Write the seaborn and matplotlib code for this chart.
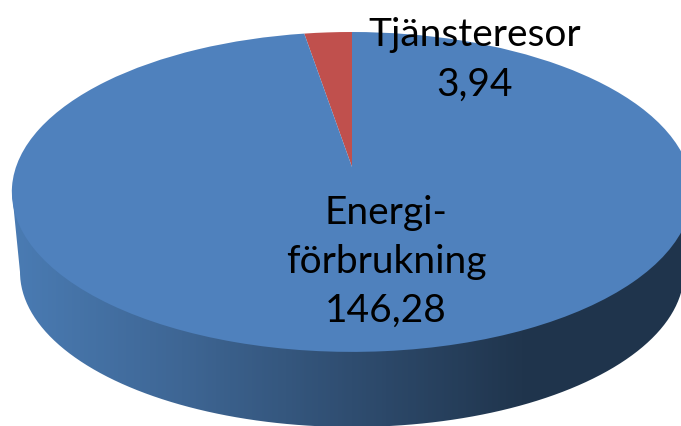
import numpy as np
import matplotlib
matplotlib.use('Agg')
import matplotlib.pyplot as plt
import seaborn as sns
from matplotlib.path import Path
from matplotlib.patches import PathPatch
from matplotlib.transforms import Transform

# Values
categories = ['Tjänsteresor', 'Energi-\nförbrukning']
values = [3.94, 146.28]
colors = ['#c0504d', '#4f81bd']
side_colors = ['#4a7bb3', '#3e6694', '#2f4d70', '#20354d', '#1f344c']

sns.set_theme(style='white')
plt.rcParams['font.family'] = ['Lato', 'DejaVu Sans']


# Tilts the flat unit pie so that it looks like the top of a 3D disc
class Tilt(Transform):
    input_dims = 2
    output_dims = 2
    has_inverse = False

    def transform_non_affine(self, xy):
        xy = np.asarray(xy, dtype=float)
        w = 1 + 0.156 * xy[:, 1]
        return np.column_stack([352 + 336 * xy[:, 0] / w, (167 - 130 * xy[:, 1]) / w])


fig = plt.figure(figsize=(6.81, 4.26), dpi=100)
ax = fig.add_axes([0, 0, 1, 1])

wedges, _ = ax.pie(values, colors=colors, startangle=90, counterclock=True,
                   wedgeprops={'linewidth': 0, 'zorder': 3})
tilt = Tilt()
for w in wedges:
    w.set_transform(tilt + ax.transData)

ax.set_aspect('auto')
ax.set_xlim(0, 681)
ax.set_ylim(426, 0)
ax.axis('off')

# Side of the disc: lower half of a smaller ellipse, joined up to the top face
t = np.linspace(0, np.pi, 200)
side_x = np.concatenate([[692], 352 + 332 * np.cos(t), [12]])
side_y = np.concatenate([[192], 272 + 155 * np.sin(t), [192]])
side = PathPatch(Path(np.column_stack([side_x, side_y])), transform=ax.transData,
                 facecolor='none', edgecolor='none')
ax.add_patch(side)
cmap = sns.blend_palette(side_colors, as_cmap=True)
img = ax.imshow(np.linspace(0, 1, 340)[None, :], extent=(12, 692, 430, 190), cmap=cmap,
                aspect='auto', zorder=1)
img.set_clip_path(side)
ax.set_xlim(0, 681)
ax.set_ylim(426, 0)

# Labels
fs = 28
ax.text(475, 60, f'{categories[0]}\n{values[0]:.2f}'.replace('.', ','), ha='center', va='center',
        fontsize=fs, color='black', linespacing=1.45, zorder=5)
ax.text(386, 262, f'{categories[1]}\n{values[1]:.2f}'.replace('.', ','), ha='center', va='center',
        fontsize=fs, color='black', linespacing=1.45, zorder=5)

plt.savefig('out.png', dpi=100)
